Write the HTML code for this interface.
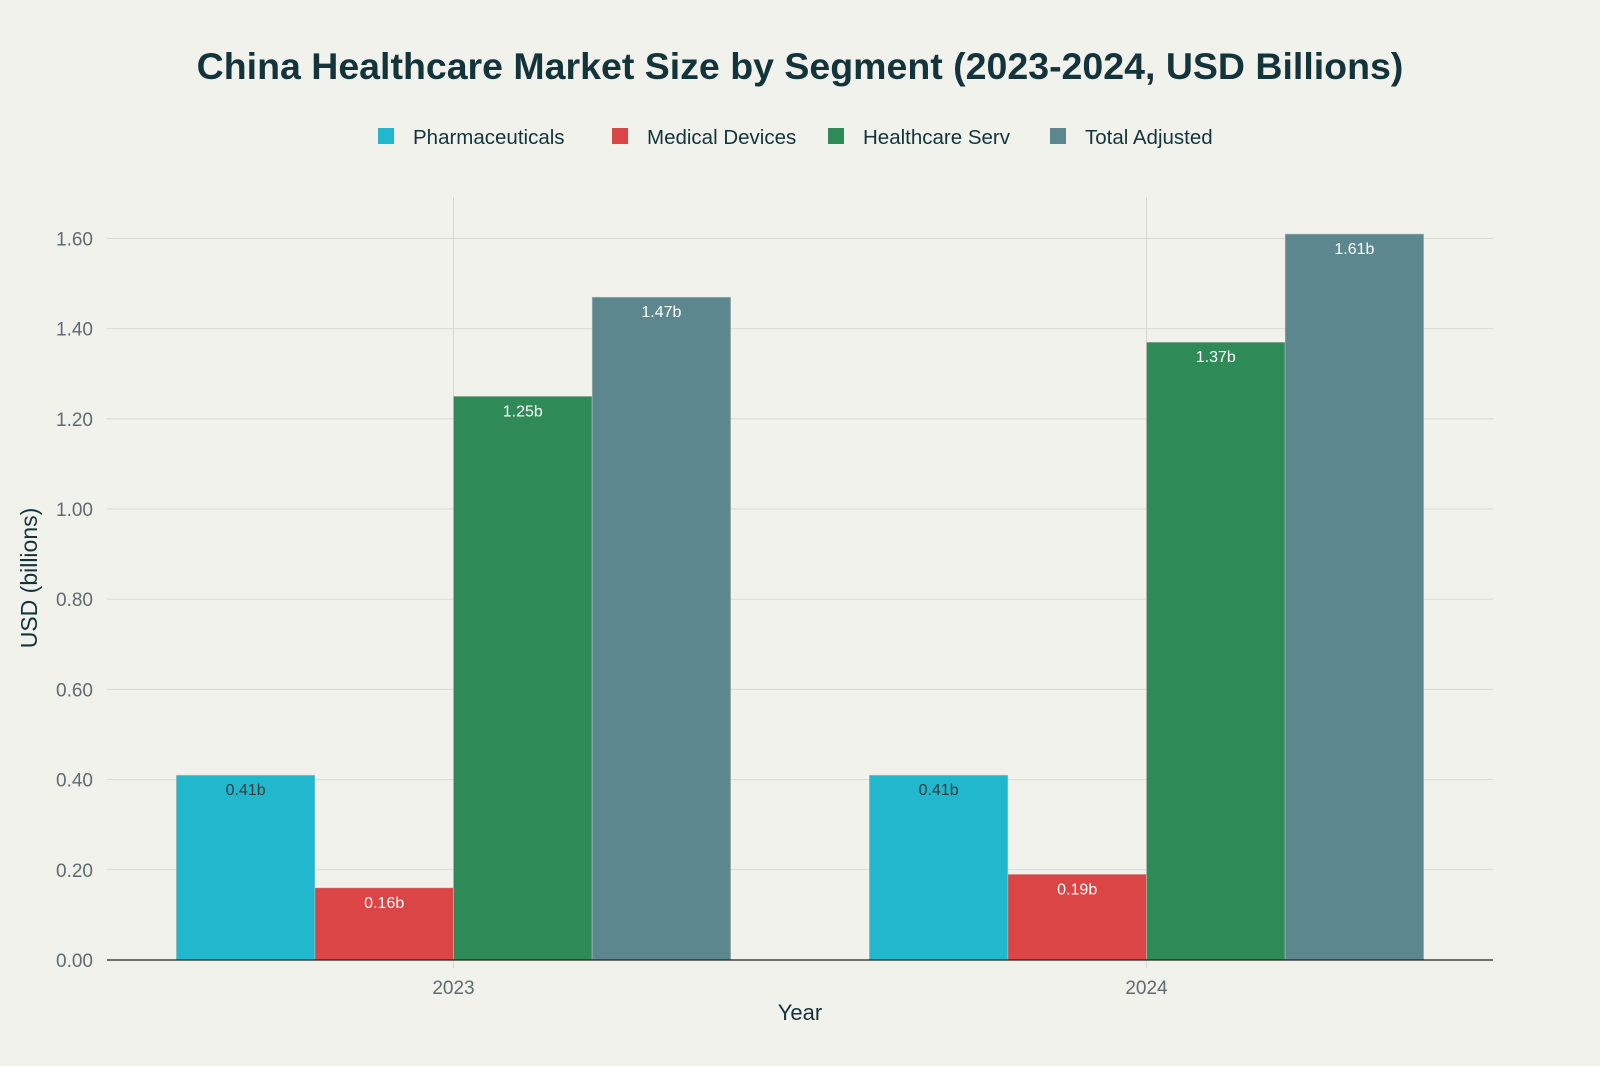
<!DOCTYPE html>
<html><head><meta charset="utf-8"><style>
html,body{margin:0;padding:0;background:#f2f2ed;}
svg{display:block;font-family:"Liberation Sans",sans-serif;}
</style></head><body>
<svg id="chart" width="1600" height="1066" viewBox="0 0 1600 1066">
<rect width="1600" height="1066" fill="#f2f2ed"/>
<text x="800" y="79" text-anchor="middle" font-size="37.5" font-weight="bold" fill="#13343b">China Healthcare Market Size by Segment (2023-2024, USD Billions)</text>
<g id="legend"></g>
<g id="grid"></g>
<g id="bars"></g>
<g id="axes"></g>
</svg>
<script>
const categories = ["2023","2024"];
const seriesNames = ["Pharmaceuticals","Medical Devices","Healthcare Serv","Total Adjusted"];
const pharma = [0.41,0.41];
const devices = [0.16,0.19];
const services = [1.25,1.37];
const total = [1.47,1.61];
const yTicks = [0,0.2,0.4,0.6,0.8,1.0,1.2,1.4,1.6];
const colors = ["#21b8cd","#db4545","#2e8b57","#5d878f"];
const labelColors = ["#3a3a3a","#ffffff","#ffffff","#ffffff"];
const series = [pharma,devices,services,total];

const NS="http://www.w3.org/2000/svg";
const L=107,R=1493,T=197,B=960;
const yMax=1.692;
const y=v=>B-(v/yMax)*(B-T);
const catW=(R-L)/categories.length;
const x=i=>L+catW*(i+0.5);
const groupW=catW*0.8, barW=groupW/series.length;
function mk(tag,attrs,parent,text){const e=document.createElementNS(NS,tag);for(const k in attrs)e.setAttribute(k,attrs[k]);if(text!==undefined)e.textContent=text;parent.appendChild(e);return e;}
const grid=document.getElementById('grid'),bars=document.getElementById('bars'),axes=document.getElementById('axes'),legend=document.getElementById('legend');
yTicks.forEach(t=>{
  if(t>0){const g=mk('line',{x1:L,x2:R,y1:y(t),y2:y(t),stroke:'#d9d9d4','stroke-width':1},grid);
  
  }
  const lb=mk('text',{x:93,y:y(t)+7,'text-anchor':'end','font-size':19,fill:'#5f6b70'},axes,t.toFixed(2));
  
  
});
categories.forEach((c,i)=>{
  const g=mk('line',{x1:x(i),x2:x(i),y1:T,y2:B+8,stroke:'#d9d9d4','stroke-width':1},grid);
  
  
  const lb=mk('text',{x:x(i),y:994,'text-anchor':'middle','font-size':19,fill:'#5f6b70'},axes,c);
  
  
  series.forEach((s,j)=>{
    const bx=x(i)-groupW/2+j*barW, v=s[i];
    const r=mk('rect',{x:bx,y:y(v),width:barW,height:B-y(v),fill:colors[j],stroke:'#c8c8c0','stroke-width':0.5},bars);
    
    
    const t=mk('text',{x:bx+barW/2,y:y(v)+20,'text-anchor':'middle','font-size':16,fill:labelColors[j]},bars,v.toFixed(2)+'b');
    
    
  });
});
const zl=mk('line',{x1:L,x2:R,y1:B,y2:B,stroke:'#222','stroke-width':1.2},axes);


const xt=mk('text',{x:800,y:1020,'text-anchor':'middle','font-size':22,fill:'#13343b'},axes,'Year');


const yt=mk('text',{x:0,y:0,'text-anchor':'middle','font-size':23,fill:'#13343b',transform:'translate(37,578) rotate(-90)'},axes,'USD (billions)');


const lx=[378,612,828,1050];
seriesNames.forEach((n,j)=>{
  const g=mk('g',{},legend);
  
  
  mk('rect',{x:lx[j],y:128,width:16,height:16,fill:colors[j]},g);
  mk('text',{x:lx[j]+35,y:144,'font-size':20.5,fill:'#13343b'},g,n);
});
</script>
</body></html>
